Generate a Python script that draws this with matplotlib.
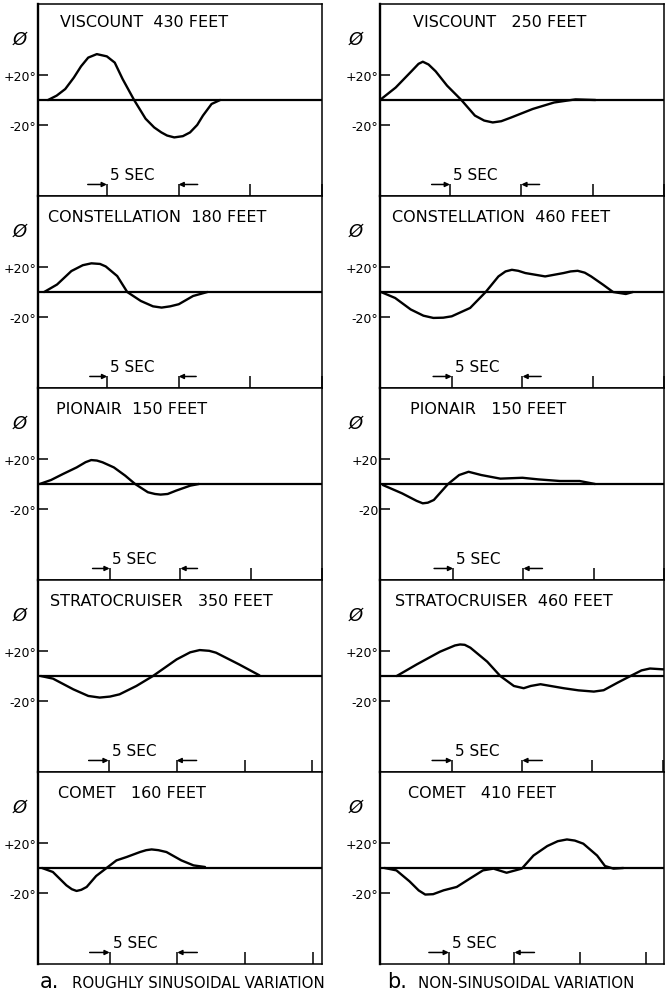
# Roll angle traces - two columns of five aircraft each

import matplotlib
matplotlib.use("Agg")
import matplotlib.pyplot as plt

# ---------------------------------------------------------------
# data: time [s] and roll angle phi [deg]

# a. roughly sinusoidal variation
viscount430_t = [0.9, 1.5, 2.1, 2.7, 3.2, 3.7, 4.3, 5.0, 5.55, 6.1, 6.9, 7.7, 8.3, 8.8, 9.2,
                 9.7, 10.3, 10.8, 11.3, 11.7, 12.3, 12.9]
viscount430_phi = [0, 3.5, 8.8, 18, 27, 34, 36.8, 35, 30, 16.8, 0, -15, -22, -26, -28.5,
                   -30, -29, -26, -20, -12.5, -3.2, 0]

constellation180_t = [0.6, 1.5, 2.5, 3.3, 3.9, 4.5, 4.9, 5.7, 6.4, 7.35, 8.2, 8.8, 9.4, 10.0,
                      11.0, 12.0]
constellation180_phi = [0, 6, 16.8, 21.5, 23, 22.5, 20.5, 12.8, 0, -7.2, -11.5, -12.5, -11.5,
                        -9.8, -3.2, 0]

pionair150a_t = [0.06, 0.86, 1.7, 2.67, 3.3, 3.7, 4.1, 4.5, 5.3, 6.1, 6.8, 7.7, 8.2, 8.6, 9.1,
                 9.7, 10.7, 11.3]
pionair150a_phi = [0, 3.2, 8, 13.3, 17.5, 19.2, 18.8, 17.4, 13.3, 6.7, 0, -6.6, -8, -8.5, -8,
                   -5.3, -1.3, 0]

strato350_t = [0, 0.9, 2.4, 3.5, 4.34, 5.1, 5.8, 7.04, 8.26, 10.0, 11.0, 11.7, 12.4, 12.9,
               14.6, 16.1]
strato350_phi = [0, -2.1, -10.7, -16, -17.3, -16.5, -14.7, -8, 0, 13.3, 19, 20.8, 20.2, 18.7,
                 9.3, 0.5]

comet160_t = [0, 0.8, 1.8, 2.2, 2.55, 2.9, 3.3, 4.0, 4.77, 5.5, 6.25, 7.24, 7.7, 8.1, 8.6,
              9.2, 10.3, 11.2, 12.05]
comet160_phi = [0, -3.2, -13.9, -17, -18.4, -17.5, -15.2, -6.4, 0, 6.1, 8.8, 12.8, 14.3, 14.9,
                14.3, 12.8, 6.1, 2.1, 0.8]

# b. non-sinusoidal variation
viscount250_t = [0.1, 1.2, 2.3, 2.8, 3.1, 3.5, 4.0, 4.8, 5.8, 6.75, 7.4, 8.0, 8.6, 9.3, 10.8,
                 12.3, 13.8, 15.2]
viscount250_phi = [0, 10, 23, 29, 30.7, 28.5, 23, 11.5, 0, -12.5, -16.5, -18, -17, -14, -7.2,
                   -2, 0.5, 0]

constellation460_t = [0, 1.0, 2.1, 3.0, 3.7, 4.4, 5.0, 6.3, 7.4, 8.3, 8.8, 9.25, 9.7, 10.2,
                      11.6, 12.9, 13.4, 13.9, 14.4, 14.85, 15.7, 16.4, 17.3, 17.8]
constellation460_phi = [0, -4.8, -14, -19, -20.8, -20.6, -19.5, -12.8, 0, 12.5, 16.5, 17.8, 17,
                        15.2, 12.5, 15.2, 16.5, 17, 15.5, 12.5, 5.8, 0, -1.6, 0]

pionair150b_t = [0, 1.37, 2.4, 2.84, 3.2, 3.63, 4.64, 5.43, 6.1, 7.0, 8.36, 9.93, 11.06, 12.6,
                 14.0, 15.1]
pionair150b_phi = [-0.8, -7.5, -13.5, -15.5, -15, -12.8, 0, 7.2, 9.8, 7.2, 4.3, 5, 3.7, 2.4,
                   2.4, 0]

strato460_t = [1.05, 2.48, 4.14, 5.2, 5.57, 5.9, 6.3, 7.5, 8.43, 9.4, 10.1, 10.6, 11.3, 12.95,
               14.0, 15.1, 15.8, 16.8, 17.8, 18.5, 19.1, 20.1]
strato460_phi = [0, 9.3, 19.5, 24.5, 25.3, 25, 22.7, 11.5, 0, -8, -9.8, -8, -6.6, -9.8,
                 -11.5, -12.5, -11.4, -5.3, 0.5, 4.5, 6, 5.3]

comet410_t = [0.1, 1.0, 2.0, 2.7, 3.2, 3.8, 4.6, 5.6, 6.6, 7.6, 8.4, 9.4, 10.56, 11.45, 12.5,
              13.3, 14.0, 14.6, 15.25, 16.3, 16.9, 17.55, 18.3]
comet410_phi = [0, -1.9, -10.7, -18, -21.3, -21, -17.9, -15.2, -8.5, -1.9, -0.5, -3.8, -0.5,
                10, 17.6, 21.5, 22.9, 22, 19.5, 10, 1.6, -0.5, 0]

titles_a = ["VISCOUNT  430 FEET", "CONSTELLATION  180 FEET", "PIONAIR  150 FEET",
            "STRATOCRUISER   350 FEET", "COMET   160 FEET"]
titles_b = ["VISCOUNT   250 FEET", "CONSTELLATION  460 FEET", "PIONAIR   150 FEET",
            "STRATOCRUISER  460 FEET", "COMET   410 FEET"]

deg_labels = ["-20°", "+20°"]
plain_labels = ["-20", "+20"]

# ---------------------------------------------------------------
# layout (pixels of a 665 x 995 figure)
W, H = 665, 995
col_left = [38, 380]
ax_w, ax_h, top0 = 284, 192, 5

# time window shown by each panel (s)
xlims_a = [(0.2, 19.1), (0.17, 17.4), (-0.06, 17.05), (-0.2, 20.7), (-0.3, 20.7)]
xlims_b = [(0.1, 18.3), (-0.07, 18.6), (-0.2, 19.0), (-0.14, 20.1), (-0.25, 21.4)]
title_x_a = [0.077, 0.035, 0.063, 0.042, 0.07]
title_x_b = [0.116, 0.042, 0.106, 0.053, 0.1]

col_a = list(zip(titles_a,
                 [viscount430_t, constellation180_t, pionair150a_t, strato350_t, comet160_t],
                 [viscount430_phi, constellation180_phi, pionair150a_phi, strato350_phi, comet160_phi],
                 xlims_a, title_x_a, [deg_labels] * 5))
col_b = list(zip(titles_b,
                 [viscount250_t, constellation460_t, pionair150b_t, strato460_t, comet410_t],
                 [viscount250_phi, constellation460_phi, pionair150b_phi, strato460_phi, comet410_phi],
                 xlims_b, title_x_b,
                 [deg_labels, deg_labels, plain_labels, deg_labels, deg_labels]))

fig = plt.figure(figsize=(W / 100, H / 100), dpi=100)

for col, plist in enumerate([col_a, col_b]):
    for row, (title, t, phi, (x0, x1), tx, ylabels) in enumerate(plist):
        top = top0 + ax_h * row
        ax = fig.add_axes([col_left[col] / W, 1 - (top + ax_h) / H, ax_w / W, ax_h / H])

        ax.axhline(0, color="black", lw=1.6)
        ax.plot(t, phi, color="black", lw=1.7, solid_joinstyle="round", solid_capstyle="round")

        ax.set_xlim(x0, x1)
        ax.set_ylim(-77, 77)
        ax.set_xticks([5, 10, 15, 20])
        ax.set_xticklabels([])
        ax.set_yticks([-20, 20])
        ax.set_yticklabels(ylabels)
        ax.tick_params(axis="x", direction="in", length=8.6, width=1.1)
        ax.tick_params(axis="y", direction="in", length=7.2, width=1.1, pad=1, labelsize=9)
        for s in ax.spines.values():
            s.set_linewidth(1.1)
        ax.spines["left"].set_linewidth(1.7)

        # 5 second marker
        trans = ax.get_xaxis_transform()
        dx = 20 / ax_w * (x1 - x0)
        arrow = dict(arrowstyle="-|>", color="black", lw=1.1, mutation_scale=7,
                     shrinkA=0, shrinkB=0)
        ax.annotate("", xy=(5, 0.06), xytext=(5 - dx, 0.06),
                    xycoords=trans, textcoords=trans, arrowprops=arrow)
        ax.annotate("", xy=(10, 0.06), xytext=(10 + dx, 0.06),
                    xycoords=trans, textcoords=trans, arrowprops=arrow)
        ax.text(5 + 3 / ax_w * (x1 - x0), 0.11, "5 SEC", transform=trans,
                ha="left", va="center", fontsize=11)

        ax.text(tx, 0.895 if row else 0.908, title, transform=ax.transAxes,
                ha="left", va="center", fontsize=11.5)
        ax.text(-0.065 if col == 0 else -0.085, 0.82, "Ø", transform=ax.transAxes,
                ha="center", va="center", fontsize=13, fontstyle="italic")

# captions under the two columns
fig.text(40 / W, 0.007, "a.", fontsize=15, ha="left", va="baseline")
fig.text(72 / W, 0.007, "ROUGHLY SINUSOIDAL VARIATION", fontsize=10.8, ha="left", va="baseline")
fig.text(387 / W, 0.007, "b.", fontsize=15, ha="left", va="baseline")
fig.text(418 / W, 0.007, "NON-SINUSOIDAL VARIATION", fontsize=10.8, ha="left", va="baseline")

fig.savefig("out.png", dpi=100)
